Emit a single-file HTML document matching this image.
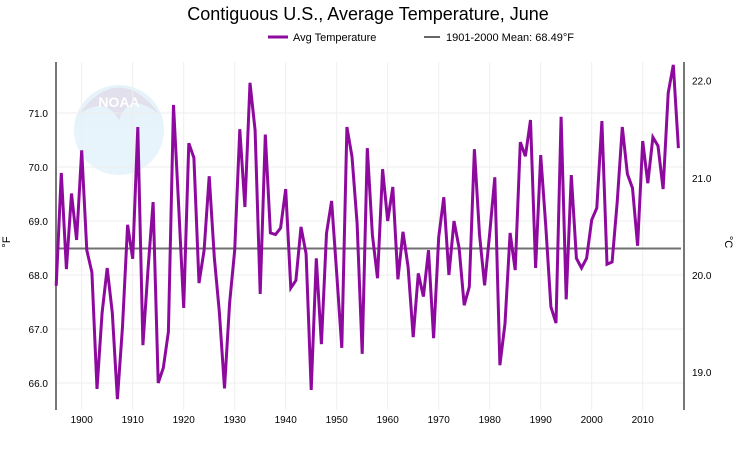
<!DOCTYPE html>
<html><head><meta charset="utf-8"><style>
body{margin:0;background:#fff;font-family:"Liberation Sans",sans-serif}
svg text{font-family:"Liberation Sans",sans-serif}
</style></head><body>
<svg width="737" height="452" xmlns="http://www.w3.org/2000/svg">
<text x="368" y="20" text-anchor="middle" font-size="18" fill="#000">Contiguous U.S., Average Temperature, June</text>
<g>
<line x1="268" y1="37" x2="288" y2="37" stroke="#8e0a9e" stroke-width="3"/>
<text x="293" y="41" font-size="11">Avg Temperature</text>
<line x1="424" y1="37" x2="440" y2="37" stroke="#666" stroke-width="2"/>
<text x="446" y="41" font-size="11">1901-2000 Mean: 68.49°F</text>
</g>
<g opacity="0.25">
<circle cx="119" cy="130" r="45" fill="#9fd3f0"/>
<path d="M78 115 Q119 60 160 115 Q130 90 119 120 Q105 95 78 115Z" fill="#8a86b8"/>
<text x="119" y="107" text-anchor="middle" font-size="14" font-weight="bold" fill="#fff">NOAA</text>
</g>
<g id="grid"></g>
<g id="axes"></g>
<g id="marks"></g>
<text transform="translate(10,242) rotate(-90)" text-anchor="middle" font-size="11">°F</text>
<text transform="translate(725,242) rotate(90)" text-anchor="middle" font-size="11">°C</text>
</svg>
<script>
const startYear = 1895;
const temps = [67.8,69.89,68.11,69.51,68.65,70.31,68.46,68.05,65.89,67.3,68.13,67.3,65.7,67.04,68.93,68.3,70.74,66.7,68.1,69.35,66.0,66.28,66.95,71.15,69.3,67.39,70.44,70.17,67.85,68.46,69.83,68.33,67.3,65.9,67.48,68.46,70.7,69.26,71.56,70.68,67.65,70.6,68.78,68.75,68.87,69.59,67.76,67.9,68.89,68.39,65.87,68.31,66.72,68.77,69.37,68.03,66.65,70.74,70.19,68.96,66.54,70.35,68.74,67.94,69.96,69.0,69.63,67.92,68.8,68.15,66.85,68.03,67.6,68.46,66.83,68.7,69.44,68.0,69.0,68.5,67.44,67.78,70.33,68.75,67.81,68.77,69.81,66.33,67.1,68.78,68.09,70.46,70.2,70.87,68.13,70.22,68.9,67.41,67.11,70.93,67.55,69.85,68.31,68.13,68.31,69.02,69.24,70.85,68.2,68.24,69.35,70.74,69.87,69.61,68.54,70.48,69.7,70.55,70.39,69.59,71.37,71.89,70.35];
const meanF = 68.49;
const fTicks = [66,67,68,69,70,71];
const cTicks = [19,20,21,22];
const xTicks = [1900,1910,1920,1930,1940,1950,1960,1970,1980,1990,2000,2010];
const NS="http://www.w3.org/2000/svg";
function x(yr){return 56.2+(yr-1895)*5.1;}
function y(f){return 113+(71-f)*54;}
function mk(tag,attrs,parent,txt){const e=document.createElementNS(NS,tag);for(const k in attrs)e.setAttribute(k,attrs[k]);if(txt!==undefined)e.textContent=txt;document.getElementById(parent).appendChild(e);return e;}
const plotTop=62,plotBot=410,plotLeft=56,plotRight=684;
xTicks.forEach(t=>{
 const g=mk('line',{x1:x(t),x2:x(t),y1:plotTop,y2:plotBot,stroke:'#eeeeee','stroke-width':1},'grid');
 
 
 const l=mk('text',{x:x(t),y:423,'text-anchor':'middle','font-size':10},'axes',String(t));
 
 
});
fTicks.forEach(t=>{
 const g=mk('line',{x1:plotLeft,x2:plotRight,y1:y(t),y2:y(t),stroke:'#eeeeee','stroke-width':1},'grid');
 
 
 const l=mk('text',{x:48,y:y(t)+4,'text-anchor':'end','font-size':10},'axes',t.toFixed(1));
 
 
});
cTicks.forEach(t=>{
 const l=mk('text',{x:692,y:y(t*1.8+32)+4,'font-size':10},'axes',t.toFixed(1));
 
 
});
const la=mk('line',{x1:plotLeft,x2:plotLeft,y1:plotTop,y2:plotBot,stroke:'#777','stroke-width':2},'axes');


const ra=mk('line',{x1:plotRight,x2:plotRight,y1:plotTop,y2:plotBot,stroke:'#777','stroke-width':2},'axes');


const ml=mk('line',{x1:plotLeft,x2:plotRight-3,y1:y(meanF),y2:y(meanF),stroke:'#707070','stroke-width':2},'marks');


const pts=temps.map((v,i)=>x(startYear+i).toFixed(1)+','+y(v).toFixed(1)).join(' ');
const pl=mk('polyline',{points:pts,fill:'none',stroke:'#8e0a9e','stroke-width':3,'stroke-linejoin':'miter'},'marks');


</script>
</body></html>
